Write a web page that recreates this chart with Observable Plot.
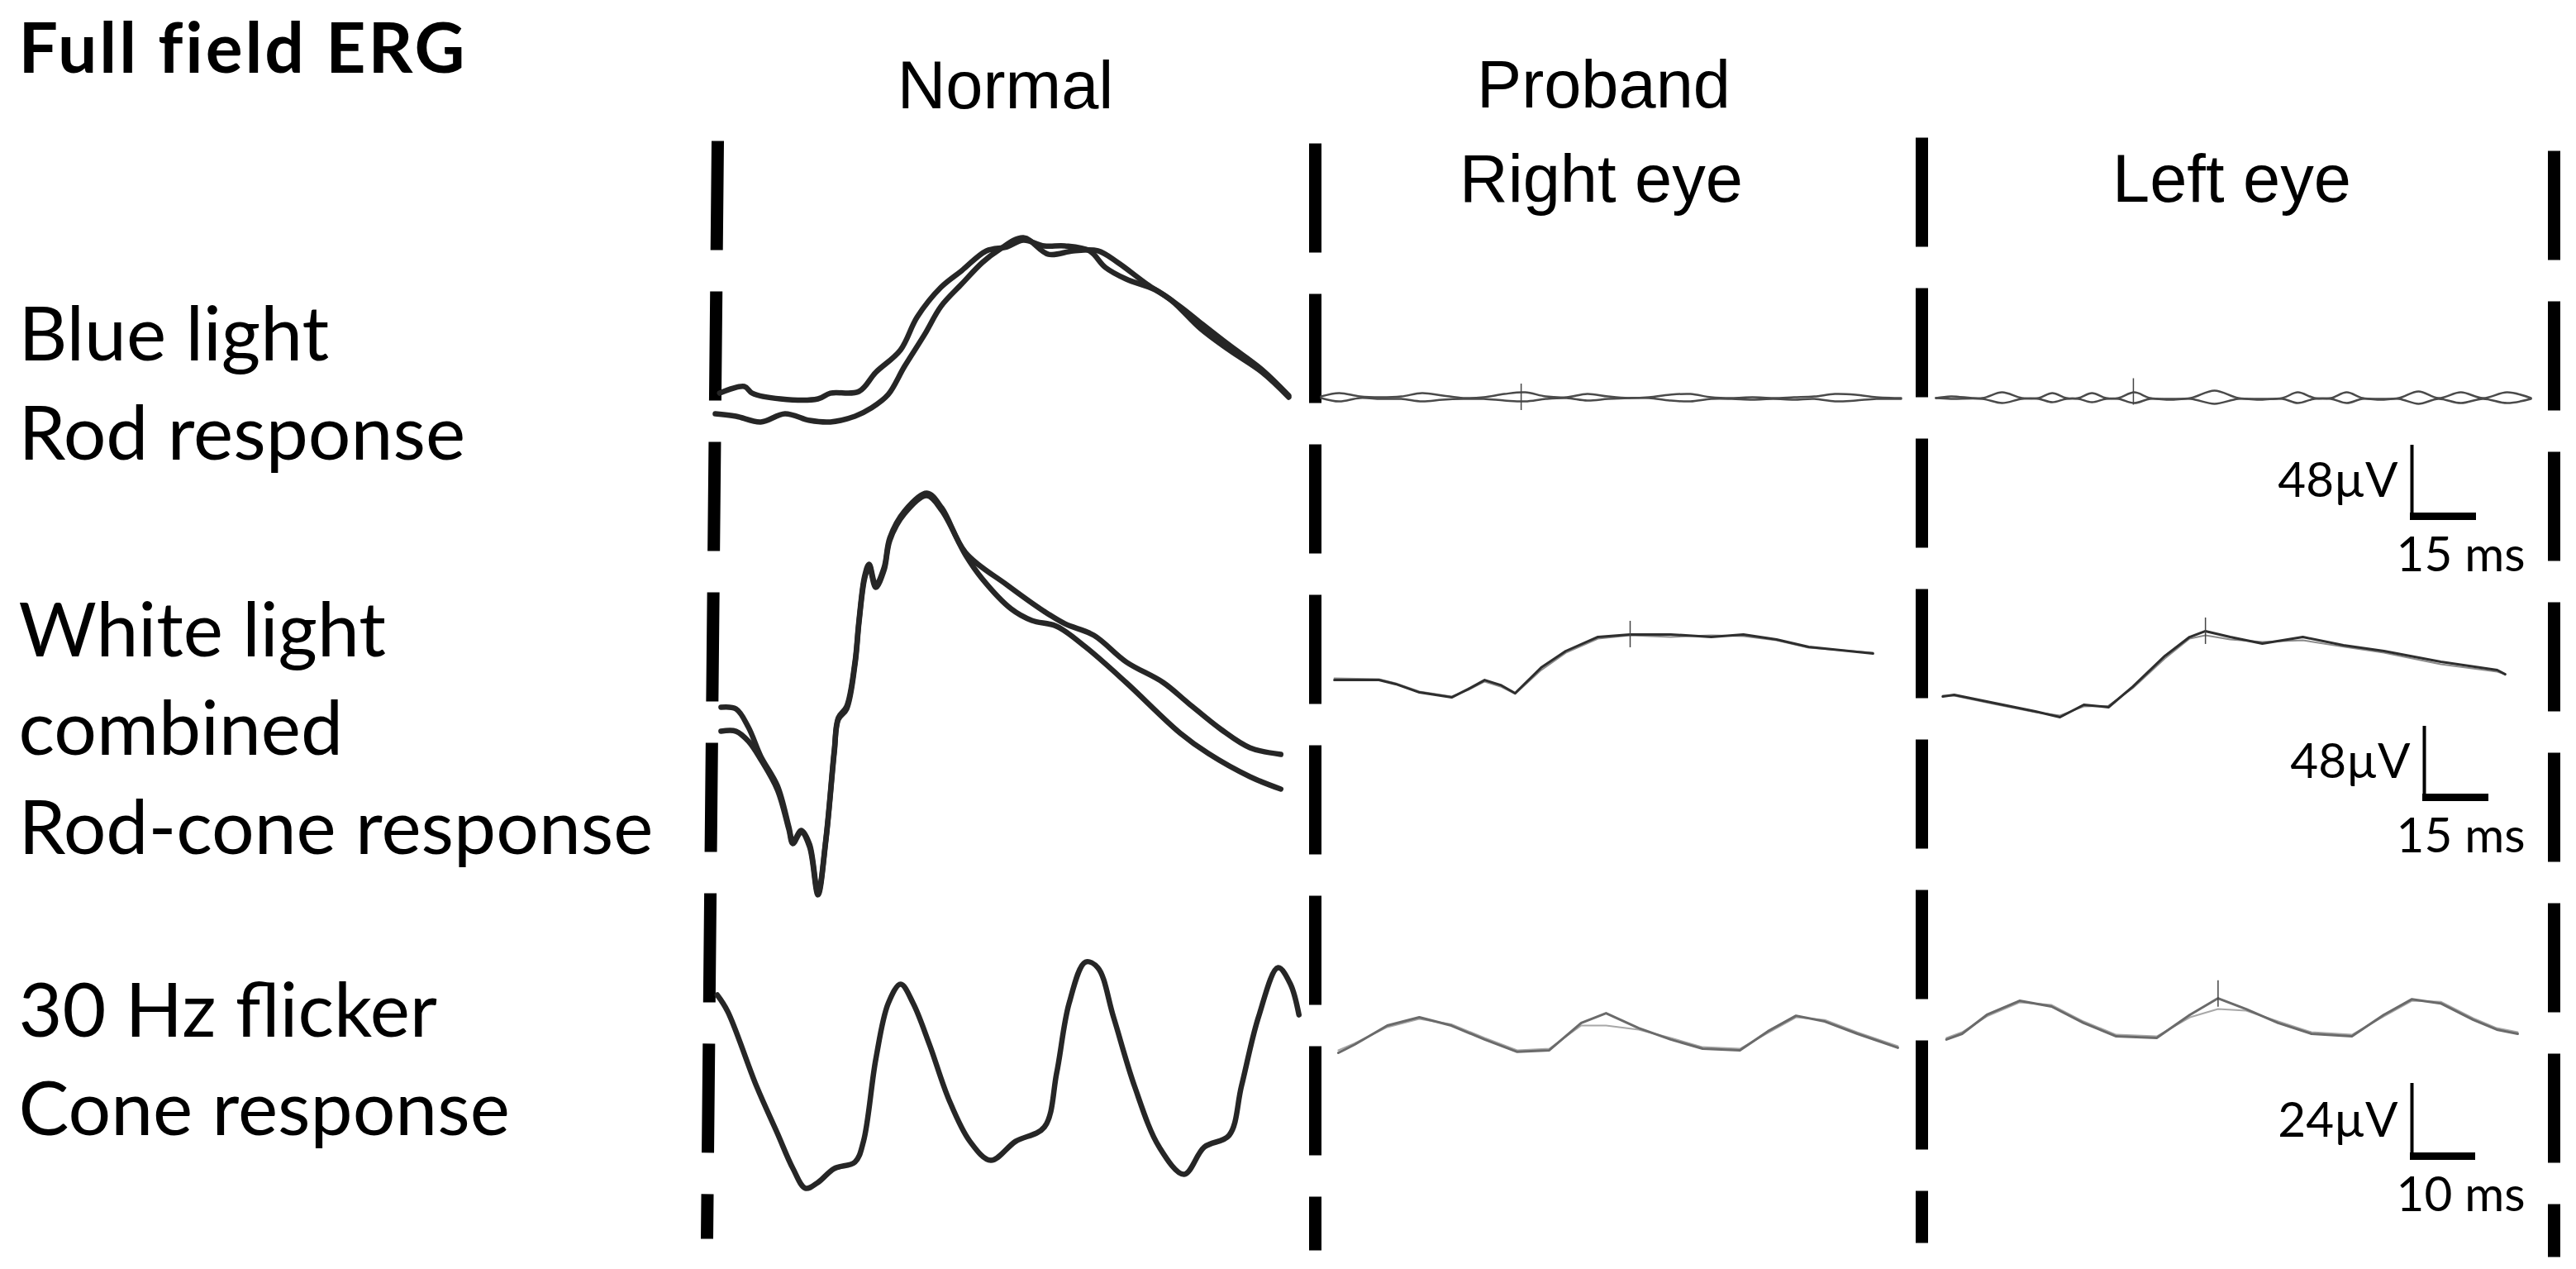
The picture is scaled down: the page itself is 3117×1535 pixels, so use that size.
<!DOCTYPE html>
<html>
<head>
<meta charset="utf-8">
<script src="https://cdn.jsdelivr.net/npm/d3@7"></script>
<script src="https://cdn.jsdelivr.net/npm/@observablehq/plot@0.6"></script>
<style>
  html, body { margin: 0; padding: 0; background: #fff; }
  #chart svg { display: block; }
</style>
</head>
<body>
<div id="chart"></div>
<script>
// ================= DATA =================
const figureTitle = "Full field ERG";
const columnHeaders = ["Normal", "Proband"];
const eyeHeaders = ["Right eye", "Left eye"];
const rowLabels = ["Blue light", "Rod response", "White light", "combined", "Rod-cone response", "30 Hz flicker", "Cone response"];

// scale bars (µV vertical, ms horizontal) for the three rows
const scaleBarUV = [48, 48, 24];
const scaleBarMs = [15, 15, 10];

// ---- Normal: blue light rod response (two sweeps), time ms / amplitude µV
const normalRodA_t  = [1.0, 6.6, 8.4, 14.8, 23.3, 26.1, 32.6, 36.4, 42.0, 45.8, 51.2, 55.9, 61.5, 66.2, 69.9, 74.6, 79.3, 84.9, 88.5, 93.2, 99.8, 105.4, 110.1, 116.6, 124.1, 130.1];
const normalRodA_uV = [13.3, 17.6, 13.3, 9.6, 9.6, 13.3, 14.4, 26.7, 41.1, 62.4, 81.6, 92.3, 105.1, 107.7, 112.0, 108.3, 108.3, 105.1, 94.4, 86.9, 80.0, 69.3, 58.7, 44.3, 28.3, 11.7];
const normalRodB_t  = [0, 4.7, 10.3, 15.8, 21.4, 26.1, 31.7, 35.4, 39.2, 42.9, 47.6, 51.2, 55.9, 60.6, 64.3, 69.9, 75.6, 81.2, 86.8, 91.3, 97.9, 103.5, 110.1, 116.6, 124.1, 130.1];
const normalRodB_uV = [0, -1.6, -5.3, 0, -4.3, -5.3, -1.6, 3.7, 12.3, 30.4, 51.7, 69.3, 83.7, 97.6, 105.6, 113.6, 102.9, 105.1, 105.1, 97.6, 83.7, 73.1, 54.9, 41.1, 26.7, 10.7];

// ---- Normal: white light combined rod-cone response (two sweeps)
const normalMixA_t  = [1.3, 4.7, 7.5, 10.3, 14.1, 16.7, 17.6, 19.5, 21.4, 23.3, 25.1, 27.0, 27.9, 29.8, 31.7, 32.6, 33.9, 34.9, 36.4, 38.3, 39.6, 42.9, 48.0, 51.4, 56.8, 66.2, 74.6, 79.3, 85.9, 93.2, 101.6, 107.3, 114.8, 121.3, 128.3];
const normalMixA_uV = [8.0, 6.9, -4.8, -23.5, -42.7, -69.3, -78.9, -71.5, -80.5, -111.5, -76.8, -19.7, 1.1, 8.5, 37.3, 64.0, 92.8, 100.3, 86.9, 98.1, 117.3, 134.4, 146.1, 136.5, 107.7, 86.9, 69.9, 61.9, 54.4, 37.3, 24.0, 10.7, -6.4, -18.1, -22.4];
const normalMixB_t  = [1.3, 4.7, 7.5, 10.3, 14.1, 16.7, 17.6, 19.5, 21.4, 23.3, 25.1, 27.0, 27.9, 29.8, 31.7, 32.6, 33.9, 34.9, 36.4, 38.3, 39.6, 42.9, 48.0, 51.4, 56.8, 60.6, 67.1, 71.8, 77.4, 84.0, 93.2, 105.4, 111.9, 121.3, 128.3];
const normalMixB_uV = [-7.5, -7.5, -13.9, -25.6, -45.3, -70.9, -80.0, -72.5, -82.1, -113.0, -77.9, -21.3, 0, 6.9, 35.7, 62.4, 91.2, 98.7, 85.3, 96.5, 115.7, 132.8, 144.5, 134.9, 106.1, 90.7, 71.5, 64.0, 60.3, 46.9, 24.0, -8.5, -21.9, -36.8, -44.8];

// ---- Normal: 30 Hz flicker cone response
const normalFlk_t  = [0.3, 1.9, 6.3, 9.5, 11.9, 13.8, 15.7, 18.2, 21.4, 22.7, 24.6, 26.5, 28.4, 30.3, 32.8, 35.8, 39.0, 42.2, 46.0, 50.4, 52.3, 54.2, 56.7, 58.6, 61.0, 64.2, 68.0, 71.8, 74.9, 78.7, 80.6, 83.2, 86.2, 88.1, 89.4];
const normalFlk_uV = [25.3, 20.1, -3.4, -18.3, -29.5, -35.7, -33.9, -29.5, -27.4, -20.9, 5.2, 22.7, 28.7, 22.7, 9.7, -7.8, -20.9, -26.9, -20.9, -16.4, 0.8, 22.7, 35.7, 33.9, 18.3, -3.4, -22.7, -31.3, -22.7, -19.0, -3.4, 18.3, 33.9, 28.7, 19.0];

// ---- Proband right eye: rod response (two sweeps, nearly flat)
const rightRod_t   = [0, 4.1, 8.8, 13.5, 18.2, 22.9, 27.6, 32.3, 36.9, 41.6, 46.3, 51.0, 55.7, 60.4, 65.1, 69.8, 74.4, 79.1, 83.8, 88.5, 93.2, 97.9, 102.6, 107.3, 111.9, 116.6, 121.3, 126.0, 131.6];
const rightRodA_uV = [0.5, 2.7, 0.5, 0, 0.5, 2.7, 1.1, -0.5, 0, 2.1, 3.2, 0.5, 0, 2.1, 0.5, -0.5, 0, 1.6, 2.1, 0, -0.5, 0, -0.5, 0, 0.5, 2.1, 1.6, 0, -0.5];
const rightRodB_uV = [-0.5, -2.7, -0.5, -1.1, -1.1, -2.7, -1.6, -1.1, -1.1, -2.1, -2.7, -1.1, -0.5, -2.1, -1.1, -0.5, -0.5, -2.1, -2.7, -1.1, -1.1, -1.6, -1.1, -1.6, -1.1, -2.7, -2.1, -1.1, -1.1];

// ---- Proband left eye: rod response
const leftRod_t   = [0, 3.4, 10.5, 15.0, 19.5, 23.3, 26.4, 29.6, 32.3, 35.4, 38.6, 41.4, 45.0, 48.6, 53.1, 57.8, 63.2, 68.6, 73.7, 78.6, 82.1, 85.9, 89.6, 93.2, 96.8, 100.9, 105.0, 109.5, 114.0, 119.1, 124.1, 129.6, 135.0];
const leftRodA_uV = [0, 1.1, 0, 3.7, 0, 0, 3.2, 0, 0, 3.2, 0, 0, 3.7, 0, -0.5, 0, 4.8, 0, -0.5, 0, 3.7, 0, 0, 3.7, 0, -0.5, 0, 4.3, 0, 3.7, 0, 3.7, 0];
const leftRodB_uV = [0, -0.5, -0.5, -3.2, -0.5, -0.5, -2.7, -0.5, -0.5, -2.7, -0.5, -0.5, -3.2, -0.5, -1.1, -0.5, -3.7, -0.5, -1.1, -0.5, -3.2, -0.5, -0.5, -3.2, -0.5, -1.1, -0.5, -3.7, -0.5, -3.2, -0.5, -3.2, -0.5];

// ---- Proband right eye: combined rod-cone response
const rightMix_t   = [0.4, 10.5, 14.3, 19.7, 27.0, 30.8, 34.5, 38.1, 41.4, 47.3, 52.9, 60.2, 67.5, 76.7, 85.9, 93.2, 100.7, 108.0, 122.6];
const rightMixA_uV = [-1.1, -1.1, -3.7, -9.1, -12.3, -6.9, -1.1, -4.3, -9.6, 6.9, 17.6, 26.7, 28.3, 28.3, 26.7, 28.3, 25.1, 20.3, 16.0];
const rightMixB_uV = [0, -0.5, -3.2, -8.5, -11.7, -7.5, -2.1, -5.3, -10.1, 5.3, 16.5, 25.6, 27.7, 26.7, 27.7, 27.2, 24.5, 19.7, 16.5];

// ---- Proband left eye: combined rod-cone response
const leftMix_t   = [0.8, 3.4, 12.6, 21.8, 27.4, 32.8, 38.4, 43.9, 51.2, 56.8, 60.4, 66.0, 73.3, 82.5, 91.7, 100.9, 113.8, 126.6, 128.4];
const leftMixA_uV = [-1.1, 0, -5.3, -10.7, -14.4, -6.4, -8.0, 5.3, 25.1, 37.3, 41.1, 37.3, 33.1, 37.3, 32.0, 28.3, 21.3, 16.0, 13.3];
const leftMixB_uV = [-0.5, -0.5, -6.0, -11.2, -13.3, -7.5, -7.0, 4.3, 23.5, 36.3, 38.4, 35.7, 34.1, 35.2, 31.0, 27.2, 19.7, 14.9, 13.3];

// ---- Proband right eye: 30 Hz flicker
const rightFlk_t   = [0.5, 3.0, 8.0, 12.9, 17.8, 22.9, 27.9, 32.8, 37.7, 41.5, 46.5, 51.4, 56.3, 62.0, 66.3, 70.6, 75.0, 80.0, 86.2];
const rightFlkA_uV = [-6.0, -3.4, 2.6, 5.2, 2.6, -1.8, -5.7, -5.2, 3.4, 6.5, 1.8, -1.8, -4.7, -5.2, 0.8, 5.7, 3.9, 0, -4.4];
const rightFlkB_uV = [-5.2, -3.0, 2.1, 4.7, 3.0, -1.3, -5.2, -4.7, 2.6, 2.6, 1.3, -1.3, -4.2, -4.7, 0.3, 5.2, 4.4, 0.5, -3.9];

// ---- Proband left eye: 30 Hz flicker
const leftFlk_t   = [0.6, 3.0, 6.8, 11.8, 16.7, 21.6, 26.6, 32.8, 37.9, 42.2, 46.5, 51.4, 56.5, 62.7, 67.6, 71.9, 76.3, 81.3, 84.9, 88.1];
const leftFlkA_uV = [-4.4, -2.6, 3.4, 7.8, 6.0, 0.8, -3.4, -3.9, 3.4, 8.6, 5.2, 0.8, -2.6, -3.4, 3.4, 8.3, 7.0, 1.8, -1.3, -2.6];
const leftFlkB_uV = [-3.9, -2.1, 2.9, 7.3, 6.5, 1.3, -2.9, -3.4, 2.6, 5.2, 4.7, 1.3, -2.1, -2.9, 2.9, 7.8, 7.5, 2.3, -0.8, -2.1];

// cursor markers on the proband traces
const markerPanel = ["rightRod", "leftRod", "rightMix", "leftMix", "leftFlk"];
const markerMs    = [45.4, 44.8, 67.5, 60.4, 42.2];
const markerUV    = [0, 4, 28.3, 41.1, 10];

// ================= LAYOUT (figure geometry, not data) =================
const W = 3117, H = 1535;
const rowCal = [
  {pxPerMs: 80 / 15, pxPerUV: 90 / 48},
  {pxPerMs: 80 / 15, pxPerUV: 90 / 48},
  {pxPerMs: 79 / 10, pxPerUV: 92 / 24}
];
const panels = {
  normalRod: {x0: 865,  y0: 500,  row: 0},
  normalMix: {x0: 865,  y0: 870,  row: 1},
  normalFlk: {x0: 865,  y0: 1300, row: 2},
  rightRod:  {x0: 1598, y0: 480,  row: 0},
  leftRod:   {x0: 2342, y0: 481,  row: 0},
  rightMix:  {x0: 1612, y0: 820,  row: 1},
  leftMix:   {x0: 2346, y0: 840,  row: 1},
  rightFlk:  {x0: 1615, y0: 1250, row: 2},
  leftFlk:   {x0: 2350, y0: 1240, row: 2}
};
const dividers = [
  {x1: 868,  y1: 170, x2: 855,  y2: 1498},
  {x1: 1591, y1: 173, x2: 1591, y2: 1512},
  {x1: 2325, y1: 166, x2: 2325, y2: 1503},
  {x1: 3090, y1: 182, x2: 3090, y2: 1520}
];
const scaleCorner = [[2918, 628], [2933, 968], [2918, 1402]];

const styles = {
  normal: {stroke: "#262626", strokeWidth: 6.5, curve: "catmull-rom"},
  rod:    {stroke: "#4a4a4a", strokeWidth: 2.5, curve: "catmull-rom"},
  mixA:   {stroke: "#2e2e2e", strokeWidth: 3,   curve: "linear"},
  mixB:   {stroke: "#8a8a8a", strokeWidth: 2,   curve: "linear"},
  flkA:   {stroke: "#6a6a6a", strokeWidth: 3,   curve: "linear"},
  flkB:   {stroke: "#a8a8a8", strokeWidth: 2,   curve: "linear"}
};

const traces = [
  ["normalRod", normalRodA_t, normalRodA_uV, "normal"],
  ["normalRod", normalRodB_t, normalRodB_uV, "normal"],
  ["normalMix", normalMixA_t, normalMixA_uV, "normal"],
  ["normalMix", normalMixB_t, normalMixB_uV, "normal"],
  ["normalFlk", normalFlk_t, normalFlk_uV, "normal"],
  ["rightRod", rightRod_t, rightRodA_uV, "rod"],
  ["rightRod", rightRod_t, rightRodB_uV, "rod"],
  ["leftRod", leftRod_t, leftRodA_uV, "rod"],
  ["leftRod", leftRod_t, leftRodB_uV, "rod"],
  ["rightMix", rightMix_t, rightMixB_uV, "mixB"],
  ["rightMix", rightMix_t, rightMixA_uV, "mixA"],
  ["leftMix", leftMix_t, leftMixB_uV, "mixB"],
  ["leftMix", leftMix_t, leftMixA_uV, "mixA"],
  ["rightFlk", rightFlk_t, rightFlkB_uV, "flkB"],
  ["rightFlk", rightFlk_t, rightFlkA_uV, "flkA"],
  ["leftFlk", leftFlk_t, leftFlkB_uV, "flkB"],
  ["leftFlk", leftFlk_t, leftFlkA_uV, "flkA"]
];

const px = (panel, t) => panels[panel].x0 + t * rowCal[panels[panel].row].pxPerMs;
const py = (panel, v) => panels[panel].y0 - v * rowCal[panels[panel].row].pxPerUV;

const traceMarks = traces.map(([panel, ts, vs, st]) => {
  const data = ts.map((t, i) => ({t, v: vs[i]}));
  return Plot.line(data, {x: d => px(panel, d.t), y: d => py(panel, d.v), ...styles[st], strokeLinejoin: "round", strokeLinecap: "round"});
});

const markers = markerPanel.map((p, i) => ({p, t: markerMs[i], v: markerUV[i]}));

const scaleData = scaleBarUV.map((uv, i) => ({
  uv, ms: scaleBarMs[i], row: i, cx: scaleCorner[i][0], cy: scaleCorner[i][1]
}));

const rowBaselines = [435, 555, 793, 912, 1032, 1253, 1372];
const rowLabelData = rowLabels.map((s, i) => ({s, y: rowBaselines[i]}));
const headerData = [
  {s: columnHeaders[0], x: 1216, y: 130},
  {s: columnHeaders[1], x: 1940, y: 129},
  {s: eyeHeaders[0], x: 1937, y: 243},
  {s: eyeHeaders[1], x: 2700, y: 243}
];

const chart = Plot.plot({
  width: W, height: H, margin: 0,
  x: {type: "linear", domain: [0, W], range: [0, W], axis: null},
  y: {type: "linear", domain: [0, H], range: [0, H], axis: null},
  style: {background: "#fff"},
  marks: [
    Plot.link(dividers, {x1: "x1", y1: "y1", x2: "x2", y2: "y2", stroke: "#000", strokeWidth: 15, strokeDasharray: "132,50"}),
    ...traceMarks,
    Plot.ruleX(markers, {x: d => px(d.p, d.t), y1: d => py(d.p, d.v) - 16, y2: d => py(d.p, d.v) + 16, stroke: "#444", strokeWidth: 1.5}),
    // scale bars
    Plot.ruleX(scaleData, {x: "cx", y1: d => d.cy - d.uv * rowCal[d.row].pxPerUV, y2: "cy", stroke: "#000", strokeWidth: 4}),
    Plot.ruleY(scaleData, {y: d => d.cy - 4, x1: d => d.cx - 2, x2: d => d.cx - 2 + d.ms * rowCal[d.row].pxPerMs, stroke: "#000", strokeWidth: 9}),
    Plot.text(scaleData, {x: d => d.cx - 17, y: d => d.cy - 28, text: d => `${d.uv}µV`, textAnchor: "end", lineAnchor: "bottom", fontFamily: "Lato", fontSize: 58, fill: "#000"}),
    Plot.text(scaleData, {x: () => 3055, y: d => d.cy + 62, text: d => `${d.ms} ms`, textAnchor: "end", lineAnchor: "bottom", fontFamily: "Lato", fontSize: 58, fill: "#000"}),
    // text
    Plot.text([figureTitle], {x: () => 22, y: () => 87, text: d => d, textAnchor: "start", lineAnchor: "bottom", fontFamily: "Lato", fontWeight: "bold", fontSize: 84, fill: "#000"}),
    Plot.text(rowLabelData, {x: () => 22, y: "y", text: "s", textAnchor: "start", lineAnchor: "bottom", fontFamily: "Lato", fontSize: 90, fill: "#000"}),
    Plot.text(headerData, {x: "x", y: "y", text: "s", textAnchor: "middle", lineAnchor: "bottom", fontFamily: "Liberation Sans", fontSize: 80, fill: "#000"})
  ]
});

document.getElementById("chart").append(chart);

// fit font sizes so the text widths match the reference (optionally capping the size)
function fitGroup(strings, sample, target, maxSize) {
  const els = [...chart.querySelectorAll("text")].filter(e => strings.includes(e.textContent));
  const s = els.find(e => e.textContent === sample);
  if (!s) return;
  const w = s.getComputedTextLength();
  const fs = parseFloat(window.getComputedStyle(s).fontSize);
  if (!(w > 0)) return;
  let nfs = fs * target / w;
  if (maxSize && nfs > maxSize) nfs = maxSize;
  els.forEach(e => e.style.fontSize = nfs + "px");
  if (maxSize && nfs === maxSize) {
    const w2 = s.getComputedTextLength();
    const gap = (target - w2) / Math.max(1, sample.length - 1);
    els.forEach(e => e.style.letterSpacing = gap + "px");
  }
}
fitGroup(rowLabels, "Rod-cone response", 768);
fitGroup([figureTitle], figureTitle, 539, 84);
fitGroup(scaleData.map(d => `${d.ms} ms`).concat(scaleData.map(d => `${d.uv}µV`)), "15 ms", 156);
fitGroup(headerData.map(d => d.s), "Right eye", 343);
</script>
</body>
</html>
